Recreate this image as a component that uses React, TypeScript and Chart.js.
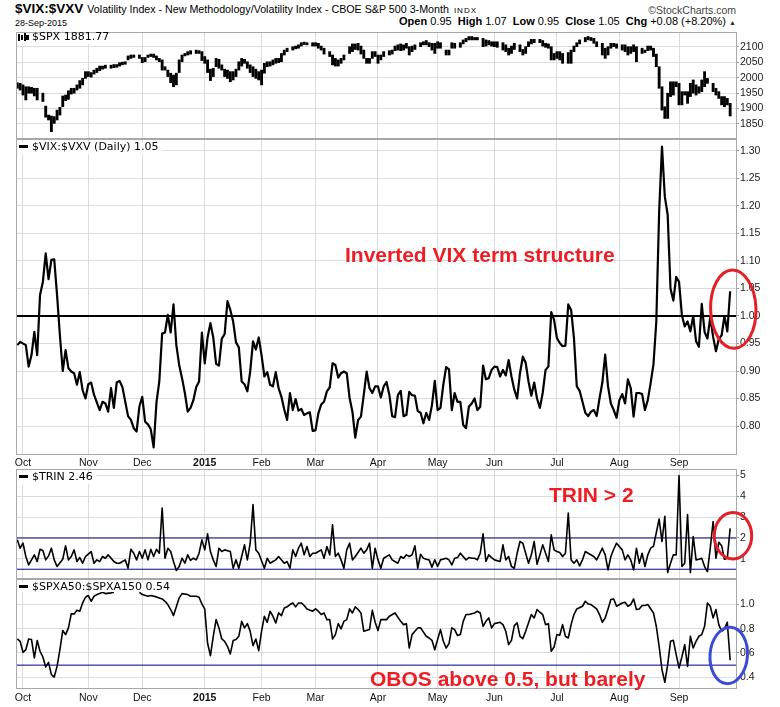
import React, { useEffect, useRef } from 'react';
import { Chart, registerables } from 'chart.js';

Chart.register(...registerables);

// ---------------- data ----------------
// x axis: trading-day index, 0 = 29-Sep-2014 ... 251 = 28-Sep-2015
const monthTickDays = [2, 25, 44, 66, 86, 105, 127, 148, 168, 190, 212, 233];
const monthTickLabels = ['Oct', 'Nov', 'Dec', '2015', 'Feb', 'Mar', 'Apr', 'May', 'Jun', 'Jul', 'Aug', 'Sep'];
const dayMin = -0.46;
const dayMax = 253.06;

const spxTicks = [1850, 1900, 1950, 2000, 2050, 2100];
const vixTicks = [0.8, 0.85, 0.9, 0.95, 1.0, 1.05, 1.1, 1.15, 1.2, 1.25, 1.3];
const trinTicks = [1, 2, 3, 4, 5];
const spxaTicks = [0.4, 0.6, 0.8, 1.0];

const spxRange = [1804.5, 2148.7];
const vixRange = [0.7491, 1.3218];
const trinRange = [0.08, 5.31];
const spxaRange = [0.312, 1.208];

const vixRefLevel = 1.0;
const trinRefLevels = [2, 0.5];
const spxaRefLevel = 0.5;

// $SPX daily high / low
const spxHigh = [
  1984, 1982, 1977, 1971, 1971, 1969, 1966, 1966, null, 1950,
  1908, 1879, 1876, 1874, 1895, 1904, 1941, 1944, 1958, 1966,
  1966, 1977, 1991, 1998, 2020, 2020, 2017, 2025, 2031, 2038,
  2038, 2041, null, 2041, 2043, 2043, 2049, 2051, 2052, 2071,
  2074, 2074, null, 2074, 2066, 2066, 2074, 2077, 2077, 2071,
  2063, 2058, 2036, 2025, 2015, 2009, 2015, 2058, 2074, 2079,
  2085, 2088, null, 2090, 2088, 2085, 2069, 2058, 2028, 2031,
  2063, 2060, 2042, 2028, 2025, 2020, 2020, 2028, 2052, 2063,
  2060, 2052, 2042, 2036, 2028, 2020, 2025, 2047, 2052, 2052,
  2058, 2063, 2063, 2079, 2090, 2096, null, 2101, 2103, 2107,
  2114, 2116, 2114, null, 2114, 2114, 2112, 2103, 2096, null,
  2085, 2074, 2063, 2058, 2063, 2074, null, 2101, 2110, 2110,
  2112, 2103, 2090, 2063, 2063, 2085, 2085, 2074, 2074, 2085,
  null, 2088, 2090, 2103, 2107, 2110, 2107, 2112, 2101, 2103,
  2107, null, 2114, 2117, 2121, 2114, 2112, 2112, 2117, 2114,
  null, 2090, 2090, 2114, 2112, null, 2114, 2123, 2128, 2134,
  2134, 2131, 2131, null, 2128, 2123, 2121, 2117, 2117, 2117,
  null, 2114, 2107, 2096, 2103, 2112, null, 2107, 2092, 2101,
  2117, 2125, 2125, null, 2125, 2121, 2112, 2110, 2101, 2079,
  2085, 2085, 2079, null, 2082, 2090, 2103, 2114, 2123, null,
  2131, 2134, 2131, 2128, 2117, null, 2112, 2096, 2101, 2112,
  2112, 2110, null, 2107, 2107, 2101, 2101, 2107, 2101, null,
  2096, 2090, 2103, 2103, 2096, 2077, 2036, 1971, 1906, 1950,
  1987, 1987, 1987, 1982, 1955, 1955, 1955, 1982, 1993, 1977,
  1971, 1993, 2020, 1998, null, 1982, 1966, 1955, 1939, 1939,
  1933, 1917,
];
const spxLow = [
  1966, 1960, 1944, 1928, 1950, 1950, 1941, 1928, null, 1923,
  1872, 1863, 1825, 1852, 1863, 1879, 1906, 1926, 1930, 1947,
  1950, 1960, 1966, 1977, 1998, 2004, 2002, 2012, 2017, 2023,
  2028, 2031, null, 2031, 2033, 2034, 2038, 2042, 2044, 2058,
  2063, 2066, null, 2063, 2049, 2052, 2066, 2069, 2066, 2058,
  2052, 2025, 2025, 2004, 1984, 1971, 1977, 2017, 2052, 2071,
  2074, 2077, null, 2079, 2079, 2056, 2047, 2017, 1991, 2004,
  2036, 2031, 2025, 2004, 1998, 1987, 1993, 2004, 2025, 2038,
  2047, 2031, 2017, 2004, 1998, 1993, 1977, 2015, 2036, 2038,
  2042, 2047, 2049, 2052, 2074, 2085, null, 2090, 2094, 2096,
  2103, 2108, 2107, null, 2103, 2103, 2096, 2090, 2077, null,
  2069, 2042, 2038, 2038, 2047, 2058, null, 2079, 2085, 2092,
  2090, 2077, 2063, 2047, 2047, 2063, 2069, 2047, 2058, 2069,
  null, 2074, 2077, 2088, 2090, 2088, 2090, 2096, 2074, 2085,
  2092, null, 2101, 2107, 2107, 2101, 2090, 2079, 2096, 2096,
  null, 2074, 2074, 2096, 2096, null, 2099, 2110, 2117, 2123,
  2123, 2123, 2123, null, 2101, 2103, 2107, 2103, 2101, 2099,
  null, 2090, 2085, 2074, 2079, 2092, null, 2085, 2074, 2079,
  2101, 2110, 2114, null, 2114, 2103, 2099, 2096, 2058, 2058,
  2063, 2058, 2047, null, 2047, 2047, 2085, 2101, 2110, null,
  2117, 2123, 2121, 2112, 2101, null, 2074, 2063, 2074, 2096,
  2101, 2096, null, 2090, 2085, 2074, 2079, 2085, 2052, null,
  2079, 2082, 2088, 2090, 2069, 2036, 1966, 1895, 1868, 1868,
  1939, 1944, 1971, 1912, 1912, 1944, 1917, 1939, 1950, 1944,
  1950, 1955, 1971, 1982, null, 1955, 1944, 1933, 1912, 1906,
  1912, 1876,
];

// $VIX:$VXV daily
const vixVxv = [
  0.947, 0.953, null, 0.947, 0.908, 0.929, 0.971, 0.929, 1.038, 1.062,
  1.114, 1.067, 1.102, 1.103, 1.038, 0.965, 0.900, 0.938, 0.905, 0.899,
  0.896, 0.875, 0.898, 0.865, 0.850, 0.876, 0.879, 0.857, null, 0.829,
  0.844, 0.841, 0.826, 0.869, 0.833, 0.879, 0.882, 0.871, null, 0.818,
  0.811, 0.796, 0.790, 0.836, 0.853, 0.808, 0.803, 0.794, 0.761, 0.843,
  0.881, 0.968, 0.970, 1.002, 0.970, 1.021, 0.947, 0.911, 0.887, 0.860,
  0.826, 0.833, 0.847, 0.871, 0.881, 0.970, 0.914, 0.961, 0.987, 0.961,
  0.913, 0.910, 0.959, 0.967, 1.027, 1.011, 0.990, 0.952, 0.943, 0.881,
  0.876, 0.863, 0.899, 0.954, 0.939, 0.961, 0.929, 0.890, 0.898, 0.875,
  0.872, 0.898, 0.869, 0.853, 0.830, 0.811, 0.860, 0.829, 0.849, 0.828,
  0.831, 0.820, 0.823, 0.825, 0.791, 0.792, 0.823, 0.839, 0.844, 0.863,
  0.870, 0.914, 0.911, 0.888, 0.896, 0.899, 0.896, 0.851, 0.826, 0.779,
  0.811, 0.817, 0.857, 0.899, 0.869, 0.860, 0.872, 0.872, 0.852, 0.872,
  0.880, 0.857, 0.818, 0.816, 0.856, 0.864, 0.818, 0.820, 0.862, 0.856,
  0.855, 0.827, 0.824, 0.805, 0.824, 0.811, 0.838, 0.882, 0.829, 0.833,
  0.875, 0.907, 0.903, 0.829, 0.860, 0.844, 0.844, 0.802, 0.796, 0.835,
  0.841, 0.850, 0.829, 0.835, 0.910, 0.885, 0.887, 0.902, 0.908, 0.907,
  0.890, 0.902, 0.892, 0.920, 0.890, 0.866, 0.850, 0.896, 0.926, 0.915,
  0.881, 0.855, 0.879, 0.850, 0.833, 0.860, 0.902, 0.908, 1.007, 0.993,
  0.960, 0.951, 0.945, 0.946, 1.021, 1.011, 0.960, 0.872, 0.864, 0.844,
  0.824, 0.818, 0.826, 0.829, 0.818, 0.850, 0.879, 0.930, 0.872, 0.841,
  0.829, 0.815, 0.847, 0.858, 0.841, 0.885, 0.869, 0.817, 0.860, 0.860,
  0.858, 0.829, 0.847, 0.878, 0.912, 0.990, 1.190, 1.308, 1.217, 1.184,
  1.050, 1.028, 1.071, 1.062, 1.002, 0.981, 0.990, 0.972, 1.000, 0.954,
  0.944, 1.022, 0.971, 0.959, 0.998, 0.962, 0.936, 0.958, 0.965, 1.000,
  0.972, 1.045,
];

// $TRIN daily
const trin = [
  1.91, 1.51, 1.75, 1.11, 0.71, 0.95, 1.19, 0.87, 1.46, 1.40,
  0.95, 1.14, 1.51, 0.95, 0.63, null, 0.98, 1.63, 0.95, 1.11,
  1.43, 0.87, 1.06, 0.79, 1.11, null, 1.35, 0.79, 0.95, 0.87,
  1.11, 1.03, 1.19, null, 0.87, 0.79, 0.79, null, 0.95, 0.55,
  1.46, 1.27, 0.95, 1.35, 1.03, 1.43, 0.95, 1.46, 1.11, 1.46,
  1.27, 3.44, 1.03, 1.51, 1.35, 0.87, 0.44, 0.63, 1.03, 0.79,
  1.19, 0.92, 1.03, 0.95, 1.27, 1.91, 1.43, 2.20, 1.35, 0.95,
  0.63, 1.51, 1.35, 1.43, null, 1.35, 0.55, 0.95, 0.55, 1.11,
  1.67, 0.95, 1.75, 3.60, 1.43, 1.27, null, 0.55, 1.03, 0.79,
  0.87, 0.95, 1.11, null, 0.79, 0.87, 0.55, 1.43, 1.11, 1.51,
  1.75, 1.19, 1.59, 1.11, 1.27, 1.27, null, 1.43, 1.03, 1.59,
  1.19, 2.63, 1.11, 1.27, 0.95, 0.55, 1.43, 1.75, 0.95, 1.11,
  null, 1.51, 1.27, 1.43, 1.75, 0.55, 1.51, 0.95, 0.55, 1.03,
  null, 1.19, 0.95, null, 0.79, 1.11, 1.03, 1.19, 1.11, 1.19,
  1.63, 0.55, 1.22, 1.03, 0.98, 0.95, 0.60, 0.95, 0.63, 0.95,
  null, 1.03, 0.95, 0.71, 1.03, 1.06, 1.27, null, 0.95, 1.06,
  1.03, 1.03, 0.95, 1.27, 2.20, 0.87, 1.19, 1.06, 0.95, null,
  0.87, 1.67, 0.95, 1.11, 0.63, 0.55, 1.27, 1.83, 1.75, null,
  0.79, 1.19, 1.83, 0.74, 1.19, 1.67, null, 0.87, 2.15, 1.43,
  1.35, 1.30, 1.11, 1.27, 3.20, 0.95, 0.79, 0.95, 0.66, 0.95,
  1.35, 1.27, null, 1.11, 0.95, null, 1.51, 1.19, 0.47, 1.11,
  1.46, 1.75, null, 1.43, 0.95, 1.19, 0.95, 0.47, 1.51, 0.79,
  1.27, 0.63, 1.19, 1.51, 1.60, null, 2.91, 1.83, 3.04, 0.34,
  0.79, 1.19, 1.19, 4.99, 0.63, 0.79, 3.12, 0.34, 2.07, 0.95,
  0.98, 1.03, 0.63, 0.39, 1.51, 2.79, 1.03, 1.79, 1.63, 0.98,
  1.03, 2.46,
];

// $SPXA50:$SPXA150 daily (days 35-42 hidden behind the panel label)
const spxa50to150 = [
  0.715, 0.696, 0.605, 0.627, 0.715, 0.710, 0.559, 0.702, 0.614, 0.567,
  0.485, 0.523, 0.422, 0.402, 0.490, 0.627, 0.784, 0.751, 0.806, 0.921,
  0.921, 0.951, 0.943, 1.011, 1.058, 1.072, 1.025, 1.066, 1.080, 1.088,
  1.099, 1.088, null, 1.094, 1.099, null, null, null, null, null,
  null, null, null, 1.099, 1.080, null, 1.066, 1.072, null, 1.061,
  null, 1.044, 1.025, 0.998, 0.957, 0.907, 0.979, 1.053, 1.088, null,
  1.080, 1.066, null, 1.066, 1.058, 1.003, 0.960, 0.680, 0.578, 0.737,
  0.874, 0.806, 0.715, 0.696, 0.655, 0.592, 0.702, 0.710, 0.737, 0.860,
  0.806, 0.841, 0.778, 0.660, 0.715, 0.619, 0.778, 0.902, 0.852, 0.943,
  0.902, 0.847, 0.929, 0.907, 0.970, 0.979, 0.998, 1.011, 0.979, 1.011,
  1.011, 0.990, 0.962, null, 0.943, 0.962, 0.943, 0.916, 0.929, 0.874,
  0.874, 0.715, 0.751, 0.841, 0.798, 0.860, 0.874, 0.962, 0.929, 0.979,
  0.957, 0.929, 0.778, null, 0.792, 0.951, 0.852, 0.784, 0.874, null,
  0.874, 0.902, null, 0.929, null, 0.860, 0.833, 0.841, 0.641, 0.751,
  0.778, 0.806, 0.806, null, 0.737, 0.723, 0.704, 0.627, 0.710, 0.792,
  0.696, 0.641, 0.677, 0.806, 0.792, 0.743, 0.751, 0.860, 0.916, 0.916,
  null, 0.929, 0.943, 0.929, 0.819, 0.860, 0.888, 0.806, 0.841, null,
  0.852, 0.833, 0.778, 0.669, 0.704, 0.825, 0.847, 0.737, 0.718, 0.778,
  null, 0.916, 0.888, 0.957, 0.935, 0.916, 0.833, 0.841, 0.614, 0.649,
  0.751, 0.745, 0.833, 0.737, 0.723, 0.833, 0.916, 0.962, null, 0.984,
  1.025, 1.003, 0.998, null, 0.962, 0.916, 0.852, 0.888, 0.962, 1.039,
  1.044, 0.984, null, 1.011, 1.017, 0.984, 0.998, 1.044, 0.957, 0.962,
  0.990, 0.990, 0.998, null, 0.929, 0.819, 0.655, 0.463, 0.359, 0.504,
  0.696, 0.704, 0.586, 0.477, 0.567, 0.669, 0.490, 0.737, 0.641, 0.696,
  0.737, 0.751, 0.819, 1.011, 0.984, 0.888, 0.957, 0.833, 0.778, 0.798,
  0.852, 0.540,
];

// ---------------- styling ----------------
const AXIS_FONT = "'Liberation Sans', Arial, Helvetica, sans-serif";
const LEGEND_FONT = "'DejaVu Sans', Verdana, sans-serif";
const GRID = '#dcdcdc';
const FRAME = '#a8a8a8';
const NAVY = '#000080';
const ANNO_RED = '#ee1d23';
const PAD = 4;

const pts = (arr: (number | null)[]) =>
  arr.map((v, i) => (v == null ? null : { x: i, y: v })).filter((p) => p !== null);

const rangePts = (lo: (number | null)[], hi: (number | null)[]) =>
  lo
    .map((l, i) => (l == null || hi[i] == null ? null : { x: i, y: [l, hi[i]] }))
    .filter((p) => p !== null);

const hline = (level: number) => [
  { x: dayMin, y: level },
  { x: dayMax, y: level },
];

const seriesLine = (data: any[], width: number, extra: any = {}) => ({
  type: 'line',
  data,
  borderColor: '#000',
  borderWidth: width,
  pointRadius: 0,
  tension: 0,
  fill: false,
  spanGaps: true,
  borderJoinStyle: 'round',
  ...extra,
});

type Spec = {
  plotTop: number;
  plotBottom: number;
  xLabels: boolean;
  labelH: number;
  labelPad: number;
  yMin: number;
  yMax: number;
  yTicks: number[];
  yFmt: (v: number) => string;
  datasets: any[];
  ellipse?: { day: number; value: number; rx: number; ry: number; color: string; rot: number };
};

const specs: Spec[] = [
  {
    plotTop: 32,
    plotBottom: 138,
    xLabels: false,
    labelH: 0,
    labelPad: 0,
    yMin: spxRange[0],
    yMax: spxRange[1],
    yTicks: spxTicks,
    yFmt: (v) => String(v),
    datasets: [
      {
        type: 'bar',
        data: rangePts(spxLow, spxHigh),
        backgroundColor: '#000',
        borderWidth: 0,
        barThickness: 2.2,
        grouped: false,
      },
    ],
  },
  {
    plotTop: 139,
    plotBottom: 454,
    xLabels: true,
    labelH: 15,
    labelPad: 3,
    yMin: vixRange[0],
    yMax: vixRange[1],
    yTicks: vixTicks,
    yFmt: (v) => v.toFixed(2),
    datasets: [
      seriesLine(pts(vixVxv), 2.2),
      seriesLine(hline(vixRefLevel), 2.2, { borderJoinStyle: 'miter' }),
    ],
    ellipse: { day: 252.1, value: 1.0124, rx: 22.7, ry: 39.2, color: '#e41f27', rot: -0.03 },
  },
  {
    plotTop: 469,
    plotBottom: 578,
    xLabels: false,
    labelH: 0,
    labelPad: 0,
    yMin: trinRange[0],
    yMax: trinRange[1],
    yTicks: trinTicks,
    yFmt: (v) => String(v),
    datasets: [
      seriesLine(pts(trin), 1.6),
      seriesLine(hline(trinRefLevels[0]), 1, { borderColor: NAVY }),
      seriesLine(hline(trinRefLevels[1]), 1, { borderColor: NAVY }),
    ],
    ellipse: { day: 252.0, value: 2.11, rx: 18.7, ry: 23.2, color: '#e41f27', rot: 0 },
  },
  {
    plotTop: 579,
    plotBottom: 688,
    xLabels: true,
    labelH: 19,
    labelPad: 4,
    yMin: spxaRange[0],
    yMax: spxaRange[1],
    yTicks: spxaTicks,
    yFmt: (v) => v.toFixed(1),
    datasets: [
      seriesLine(pts(spxa50to150), 1.6, { spanGaps: 3 }),
      seriesLine(hline(spxaRefLevel), 1, { borderColor: NAVY }),
    ],
    ellipse: { day: 250.5, value: 0.58, rx: 18.7, ry: 28.3, color: '#3b4bd3', rot: 0.08 },
  },
];

const canvasTop = (s: Spec) => s.plotTop - PAD;
const canvasHeight = (s: Spec) => s.plotBottom - s.plotTop + PAD + (s.xLabels ? s.labelH : PAD);

const framePlugin = {
  id: 'panelFrame',
  afterDatasetsDraw(chart: any) {
    const { ctx, chartArea: a } = chart;
    ctx.save();
    ctx.strokeStyle = FRAME;
    ctx.lineWidth = 1;
    ctx.strokeRect(a.left + 0.5, a.top + 0.5, a.right - a.left, a.bottom - a.top);
    ctx.restore();
  },
};

const ellipsePlugin = (e: Spec['ellipse']) => ({
  id: 'ellipseMark',
  afterDraw(chart: any) {
    if (!e) return;
    const ctx = chart.ctx;
    const x = chart.scales.x.getPixelForValue(e.day);
    const y = chart.scales.y.getPixelForValue(e.value);
    ctx.save();
    ctx.beginPath();
    ctx.ellipse(x, y, e.rx, e.ry, e.rot, 0, Math.PI * 2);
    ctx.strokeStyle = e.color;
    ctx.lineWidth = 3;
    ctx.stroke();
    ctx.restore();
  },
});

function makeChart(canvas: HTMLCanvasElement, s: Spec) {
  return new Chart(canvas, {
    type: 'line',
    data: { datasets: s.datasets },
    options: {
      responsive: false,
      animation: false,
      devicePixelRatio: 1,
      events: [],
      layout: { padding: { left: 16, right: 0, top: PAD, bottom: s.xLabels ? 0 : PAD } },
      plugins: { legend: { display: false }, tooltip: { enabled: false }, title: { display: false } },
      scales: {
        x: {
          type: 'linear',
          min: dayMin,
          max: dayMax,
          offset: false,
          afterBuildTicks: (sc: any) => {
            sc.ticks = monthTickDays.map((v) => ({ value: v }));
          },
          afterFit: (sc: any) => {
            sc.height = s.xLabels ? s.labelH : 0;
            sc.paddingLeft = 0;
            sc.paddingRight = 0;
          },
          grid: { color: GRID, lineWidth: 1, drawTicks: false, offset: false },
          border: { display: false },
          ticks: {
            display: s.xLabels,
            autoSkip: false,
            maxRotation: 0,
            minRotation: 0,
            padding: s.labelPad,
            color: '#111',
            font: (ctx: any) => ({
              family: AXIS_FONT,
              size: 10.5,
              weight: ctx.tick && ctx.tick.label === '2015' ? 'bold' : 'normal',
            }),
            callback: (_v: any, i: number) => monthTickLabels[i],
          },
        },
        y: {
          type: 'linear',
          position: 'right',
          min: s.yMin,
          max: s.yMax,
          afterBuildTicks: (sc: any) => {
            sc.ticks = s.yTicks.map((v) => ({ value: v }));
          },
          afterFit: (sc: any) => {
            sc.width = 44;
            sc.paddingTop = 0;
            sc.paddingBottom = 0;
          },
          grid: { color: GRID, lineWidth: 1, drawTicks: true, tickLength: 3, tickColor: '#999' },
          border: { display: false },
          ticks: {
            autoSkip: false,
            padding: 1,
            color: '#1a1a1a',
            font: { family: AXIS_FONT, size: 10.5 },
            callback: (v: any) => s.yFmt(Number(v)),
          },
        },
      },
    } as any,
    plugins: [framePlugin, ellipsePlugin(s.ellipse)],
  } as any);
}

// ---------------- small HTML pieces ----------------
function Legend({ top, text, icon, h = 11 }: { top: number; text: string; icon?: boolean; h?: number }) {
  return (
    <div
      style={{
        position: 'absolute',
        left: 17,
        top,
        height: h,
        paddingLeft: 15,
        paddingRight: 3,
        background: '#fff',
        fontFamily: LEGEND_FONT,
        fontSize: 11,
        lineHeight: '8px',
        color: '#000',
        whiteSpace: 'nowrap',
      }}
    >
      {icon ? (
        <span style={{ position: 'absolute', left: 1, top: 0, width: 11, height: 8 }}>
          <span style={{ position: 'absolute', left: 0, top: 1, width: 1.5, height: 7, background: '#000' }} />
          <span style={{ position: 'absolute', left: 2.5, top: 2, width: 2.5, height: 5, border: '1px solid #000', boxSizing: 'border-box' }} />
          <span style={{ position: 'absolute', left: 6, top: 0, width: 1.5, height: 8, background: '#000' }} />
          <span style={{ position: 'absolute', left: 8, top: 2, width: 3, height: 5, background: '#000' }} />
        </span>
      ) : (
        <span style={{ position: 'absolute', left: 2, top: 2.5, width: 9, height: 2.5, background: '#000' }} />
      )}
      {text}
    </div>
  );
}

const annoStyle = (left: number, top: number): React.CSSProperties => ({
  position: 'absolute',
  left,
  top,
  fontFamily: AXIS_FONT,
  fontWeight: 'bold',
  fontSize: 21,
  lineHeight: '21px',
  color: ANNO_RED,
  whiteSpace: 'nowrap',
});

export default function App() {
  const canvasRefs = useRef<(HTMLCanvasElement | null)[]>([]);

  useEffect(() => {
    const charts = specs.map((s, i) => makeChart(canvasRefs.current[i] as HTMLCanvasElement, s));
    return () => charts.forEach((c) => c.destroy());
  }, []);

  return (
    <div
      style={{
        position: 'absolute',
        left: 0,
        top: 0,
        width: 780,
        height: 707,
        background: '#fff',
        overflow: 'hidden',
        fontFamily: AXIS_FONT,
        color: '#000',
      }}
    >
      {specs.map((s, i) => (
        <canvas
          key={i}
          ref={(el) => {
            canvasRefs.current[i] = el;
          }}
          width={780}
          height={canvasHeight(s)}
          style={{ position: 'absolute', left: 0, top: canvasTop(s), width: 780, height: canvasHeight(s) }}
        />
      ))}

      {/* header line 1 */}
      <div
        style={{
          position: 'absolute',
          left: 15,
          top: 2.4,
          display: 'flex',
          alignItems: 'baseline',
          whiteSpace: 'nowrap',
          lineHeight: '14px',
        }}
      >
        <span style={{ fontWeight: 'bold', fontSize: 13.5 }}>$VIX:$VXV</span>
        <span style={{ fontSize: 10.7, marginLeft: 4 }}>
          Volatility Index - New Methodology/Volatility Index - CBOE S&amp;P 500 3-Month
        </span>
        <span style={{ fontSize: 8, letterSpacing: 1, marginLeft: 5 }}>INDX</span>
      </div>
      <div
        style={{
          position: 'absolute',
          right: 44,
          top: 5.3,
          fontSize: 10.5,
          lineHeight: '10.5px',
          color: '#444',
          whiteSpace: 'nowrap',
        }}
      >
        ©StockCharts.com
      </div>

      {/* header line 2 */}
      <div style={{ position: 'absolute', left: 15, top: 19.2, fontSize: 9, lineHeight: '9px', whiteSpace: 'nowrap' }}>
        28-Sep-2015
      </div>
      <div
        style={{
          position: 'absolute',
          right: 44,
          top: 16.2,
          fontSize: 11,
          lineHeight: '11px',
          whiteSpace: 'nowrap',
        }}
      >
        <b>Open</b> 0.95 <b style={{ marginLeft: 3 }}>High</b> 1.07 <b style={{ marginLeft: 3 }}>Low</b> 0.95{' '}
        <b style={{ marginLeft: 3 }}>Close</b> 1.05 <b style={{ marginLeft: 3 }}>Chg</b> +0.08 (+8.20%){' '}
        <span style={{ fontSize: 7, color: '#2a2a2a' }}>▲</span>
      </div>

      {/* panel legends */}
      <Legend top={33.2} text="$SPX 1881.77" icon />
      <Legend top={142.7} text="$VIX:$VXV (Daily) 1.05" />
      <Legend top={472.7} text="$TRIN 2.46" />
      <Legend top={582.7} text="$SPXA50:$SPXA150 0.54" h={9.3} />

      {/* annotations */}
      <div style={annoStyle(345, 243.6)}>Inverted VIX term structure</div>
      <div style={annoStyle(549, 484.3)}>TRIN &gt; 2</div>
      <div style={annoStyle(370, 667.6)}>OBOS above 0.5, but barely</div>
    </div>
  );
}
